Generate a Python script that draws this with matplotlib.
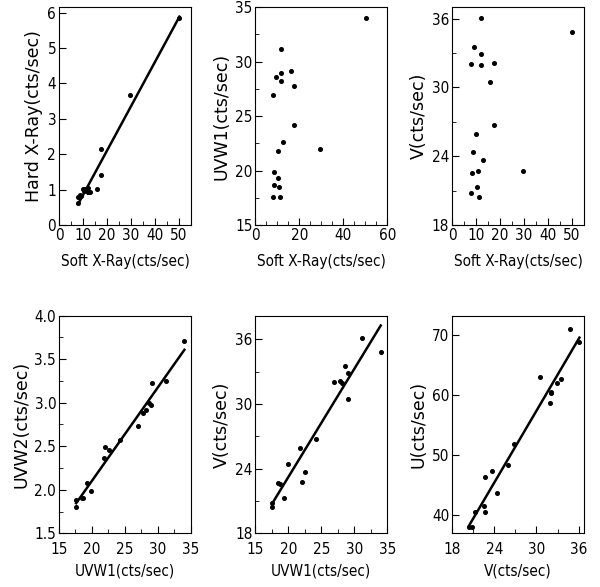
import numpy as np
import matplotlib.pyplot as plt
from matplotlib.ticker import AutoMinorLocator

# ===== data (cts/sec), one entry per observation =====
soft = [50.2, 11.9, 16.0, 9.3, 11.9, 11.9, 17.5, 7.9, 17.4, 12.8,
        29.4, 10.2, 8.7, 10.4, 8.4, 10.8, 7.9, 11.3]
hard = [5.84, 0.93, 1.02, 0.82, 1.05, 0.92, 2.15, 0.80, 1.40, 0.92,
        3.67, 1.01, 0.84, 0.95, 0.78, 1.03, 0.63, 0.98]
uvw1 = [34.0, 31.2, 29.1, 28.6, 29.0, 28.2, 27.8, 26.9, 24.2, 22.6,
        22.0, 21.8, 19.9, 19.3, 18.7, 18.5, 17.6, 17.6]
uvw2 = [3.71, 3.25, 3.22, 2.99, 2.97, 2.92, 2.88, 2.73, 2.57, 2.46,
        2.49, 2.37, 1.99, 2.08, 1.90, 1.91, 1.80, 1.88]
v = [34.8, 36.1, 30.45, 33.5, 32.9, 31.96, 32.1, 32.06, 26.75, 23.7,
     22.75, 25.9, 24.4, 21.3, 22.55, 22.7, 20.8, 20.4]
u = [70.9, 68.8, 62.9, 62.7, 61.9, 58.7, 60.5, 60.25, 51.9, 47.4,
     46.3, 48.3, 43.7, 40.6, 41.6, 40.6, 38.1, 38.0]

plt.rcParams["font.family"] = "DejaVu Sans"
plt.rcParams["font.size"] = 10

fig = plt.figure(figsize=(6.0, 5.87), dpi=100)

lefts = [0.0983, 0.4255, 0.7533]
bottoms = [0.6167, 0.0915]
w, h = 0.22, 0.371

panels = [
    # x, y, xlabel, ylabel, xlim, ylim, xticks, yticks, xminor, yminor, fit
    (soft, hard, "Soft X-Ray(cts/sec)", "Hard X-Ray(cts/sec)",
     (0, 55), (0, 6.15), range(0, 51, 10), range(0, 7), 2, 1, True),
    (soft, uvw1, "Soft X-Ray(cts/sec)", "UVW1(cts/sec)",
     (0, 60), (15, 35), range(0, 61, 20), range(15, 36, 5), 4, 2, False),
    (soft, v, "Soft X-Ray(cts/sec)", "V(cts/sec)",
     (0, 55), (18, 37), range(0, 51, 10), range(18, 37, 6), 2, 2, False),
    (uvw1, uvw2, "UVW1(cts/sec)", "UVW2(cts/sec)",
     (15, 35), (1.5, 4.0), range(15, 36, 5), [1.5, 2.0, 2.5, 3.0, 3.5, 4.0], 2, 2, True),
    (uvw1, v, "UVW1(cts/sec)", "V(cts/sec)",
     (15, 35), (18, 38.2), range(15, 36, 5), range(18, 37, 6), 2, 2, True),
    (v, u, "V(cts/sec)", "U(cts/sec)",
     (18, 36.75), (37, 73.2), range(18, 37, 6), range(40, 71, 10), 2, 1, True),
]

for i, (x, y, xl, yl, xlim, ylim, xt, yt, xm, ym, fit) in enumerate(panels):
    row = i // 3
    ax = fig.add_axes([lefts[i % 3], bottoms[row], w, h])
    ax.plot(x, y, "o", color="black", markersize=2.6)
    if fit:
        k, b = np.polyfit(x, y, 1)
        xx = np.array([min(x), max(x)])
        ax.plot(xx, k * xx + b, color="black", linewidth=1.8)
    ax.set_xlim(*xlim)
    ax.set_ylim(*ylim)
    ax.set_xticks(list(xt))
    ax.set_yticks(list(yt))
    if yl == "UVW2(cts/sec)":
        ax.set_yticklabels(["1.5", "2.0", "2.5", "3.0", "3.5", "4.0"])
    if xm > 1:
        ax.xaxis.set_minor_locator(AutoMinorLocator(xm))
    if ym > 1:
        ax.yaxis.set_minor_locator(AutoMinorLocator(ym))
    ax.tick_params(which="both", direction="in", top=False, right=False,
                   labelsize=11)
    ax.tick_params(axis="y", pad=2)
    ax.tick_params(axis="x", pad=2 if row == 0 else 6)
    ax.tick_params(which="major", length=5)
    ax.tick_params(which="minor", length=3)
    for lab in ax.get_xticklabels() + ax.get_yticklabels():
        lab.set_fontstretch("condensed")
    ax.set_xlabel(xl, fontsize=11, labelpad=8 if row == 0 else 5,
                  fontstretch="condensed")
    ax.set_ylabel(yl, fontsize=12.5, labelpad=3)

plt.savefig("out.png", dpi=100)
